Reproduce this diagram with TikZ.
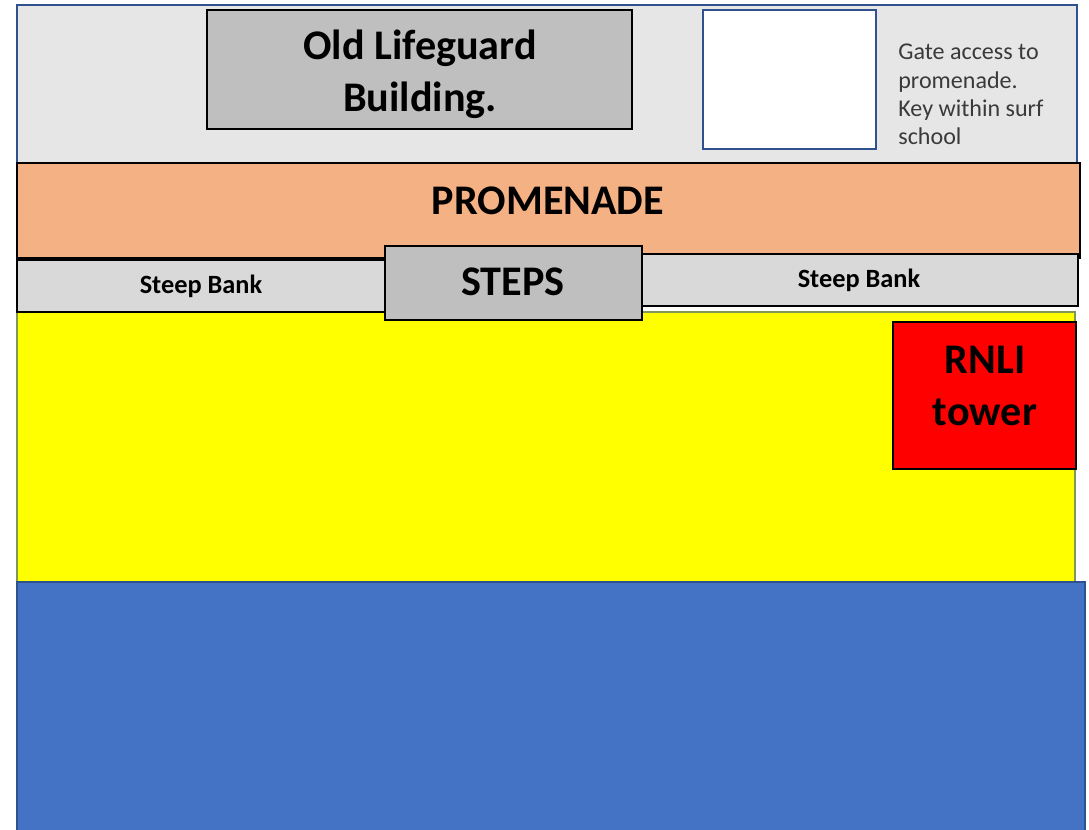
\documentclass[tikz,border=0pt]{standalone}
\usepackage{fontspec}
\setmainfont{Carlito}
\definecolor{paving}{HTML}{E6E6E6}
\definecolor{hut}{HTML}{BFBFBF}
\definecolor{prom}{HTML}{F4B183}
\definecolor{bank}{HTML}{D9D9D9}
\definecolor{sand}{HTML}{FFFF00}
\definecolor{tower}{HTML}{FF0000}
\definecolor{sea}{HTML}{4472C4}
\definecolor{edgeblue}{HTML}{2F528F}
\definecolor{note}{HTML}{3A3A3A}
\begin{document}
\begin{tikzpicture}[x=0.02cm, y=-0.02cm,
  block/.style={draw=black, line width=1.1pt},
  big/.style={font=\fontsize{24}{29.5}\selectfont\bfseries, align=center, inner sep=0pt},
  small/.style={font=\fontsize{15}{18}\selectfont\bfseries, inner sep=0pt}]
  \useasboundingbox (0,0) rectangle (1089,830);

  % areas, back to front
  \draw[fill=paving, draw=edgeblue, line width=0.8pt] (17,5) rectangle (1077,163);
  \draw[block, fill=hut] (207,10) rectangle (632,129);
  \draw[fill=white, draw=edgeblue, line width=1pt] (703,10) rectangle (876,149);
  \draw[block, fill=prom] (17,163) rectangle (1080,258);
  \draw[fill=sand, draw=edgeblue!60!sand, line width=0.6pt] (17,312) rectangle (1075,582);
  \draw[block, fill=bank] (17,260) rectangle (385,312);
  \draw[block, fill=bank] (641,254) rectangle (1078,306);
  \draw[block, fill=hut] (385,246) rectangle (642,320);
  \draw[block, fill=tower] (893,322) rectangle (1076,469);
  \draw[fill=sea, draw=edgeblue, line width=0.8pt] (17,582) rectangle (1085,834);

  % labels
  \node[big] (lifeguard) at (420,74) {Old Lifeguard\\Building.};
  \node[anchor=north west, align=left, text=note, inner sep=0pt,
        font=\fontsize{13.7}{16}\selectfont] (gate) at (898,44)
        {Gate access to\\promenade.\\Key within surf\\school};
  \node[big] (promenade) at (548,201) {PROMENADE};
  \node[small] (leftbank) at (201,286) {Steep Bank};
  \node[small] (rightbank) at (859,280) {Steep Bank};
  \node[big] (steps) at (513,282) {STEPS};
  \node[big] (rnli) at (985,386) {RNLI\\tower};
\end{tikzpicture}
\end{document}
